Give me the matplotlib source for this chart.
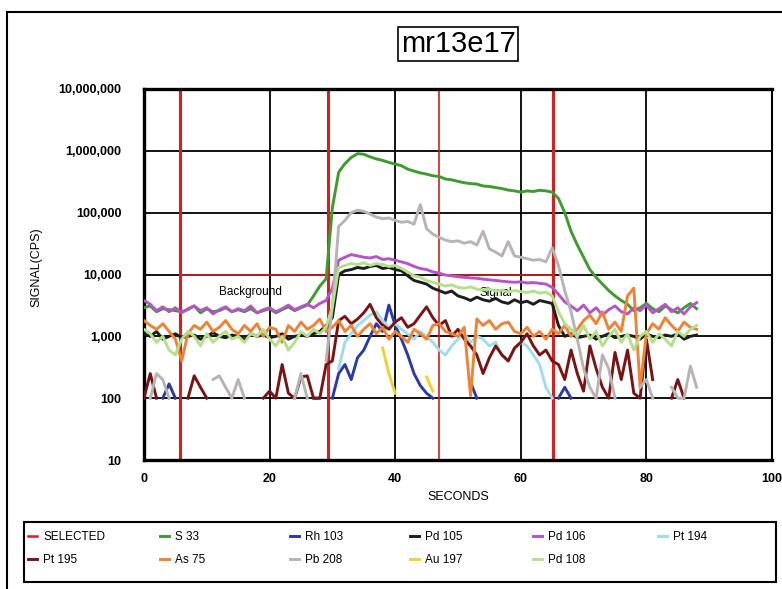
import numpy as np
import matplotlib
matplotlib.use("Agg")
import matplotlib.pyplot as plt
from matplotlib.ticker import FuncFormatter, NullLocator, FixedLocator
from matplotlib.patches import Rectangle

plt.rcParams['font.family'] = ['Liberation Sans', 'DejaVu Sans']

nan = float('nan')

# one sample per second, 0 .. 88 s
seconds = np.arange(89)

# selected integration windows (background 6-29 s, signal 47-65 s)
sel_x = [5.7, 29.3, 47.0, 65.2]
sel_level = 10000

s33 = [2900, 3100, 2500, 2800, 2700, 2600, 2500, 2700, 3100, 2400,
       2800, 2500, 2600, 2900, 2500, 2700, 2500, 2800, 2400, 2600,
       2800, 2400, 2700, 3000, 2600, 2900, 3200, 4500, 6500, 8500,
       120000, 450000, 620000, 780000, 900000, 880000, 800000, 740000, 700000, 650000,
       610000, 575000, 505000, 470000, 440000, 420000, 395000, 385000, 350000, 340000,
       320000, 305000, 295000, 290000, 270000, 265000, 255000, 245000, 232000, 225000,
       215000, 225000, 220000, 230000, 225000, 215000, 170000, 100000, 50000, 30000,
       19000, 12000, 9000, 7000, 5500, 4500, 3800, 3300, 2600, 2900,
       3400, 2800, 2500, 3100, 2700, 2400, 2900, 3400, 2800]

rh103 = [nan, nan, nan, 100, 170, 100, nan, nan, nan, nan,
         nan, nan, nan, nan, nan, nan, nan, nan, nan, nan,
         nan, nan, nan, nan, nan, nan, nan, 100, 100, nan,
         100, 250, 350, 200, 450, 600, 1000, 1600, 1200, 3200,
         1500, 900, 500, 250, 160, 120, 100, nan, nan, nan,
         nan, nan, 180, 100, nan, nan, nan, nan, nan, nan,
         nan, nan, nan, nan, nan, nan, 100, 150, 100, nan,
         nan, nan, nan, nan, nan, nan, nan, nan, nan, nan,
         nan, nan, nan, nan, nan, nan, nan, nan, nan]

pd105 = [1100, 1000, 1200, 900, 1000, 1100, 950, 1000, 1050, 900,
         1000, 1150, 1000, 950, 1050, 1000, 900, 1100, 1000, 1050,
         950, 1000, 1100, 900, 1000, 1050, 1000, 1100, 1200, 1500,
         2000, 10000, 11500, 12000, 13000, 12500, 13500, 14000, 12500, 13000,
         12000, 11500, 9500, 8000, 7500, 7000, 6000, 5500, 5000, 5400,
         4500, 4200, 3800, 4300, 3900, 3700, 4100, 3600, 3400, 3900,
         3500, 3700, 3300, 3800, 3600, 3400, 1500, 1000, 1100, 950,
         1000, 1050, 900, 1000, 1100, 950, 1000, 1050, 1000, 900,
         1100, 1000, 950, 1050, 1000, 1100, 900, 1000, 1050]

pd106 = [3800, 3300, 2600, 3000, 2500, 2900, 2400, 2800, 3100, 2600,
         2900, 2300, 2700, 3000, 2500, 2800, 2600, 3100, 2400, 2700,
         2900, 2500, 2800, 3200, 2700, 3000, 3300, 2900, 3400, 3800,
         6000, 17000, 19000, 21000, 20000, 19000, 18500, 19500, 17500, 18000,
         17000, 16000, 15000, 13500, 12500, 12000, 11000, 10500, 9800, 9500,
         9200, 9000, 8800, 8700, 8400, 8200, 8000, 7800, 7600, 7500,
         7600, 7300, 7400, 7200, 7000, 6200, 4800, 3600, 3100, 2600,
         3200, 2400, 2900, 2200, 2700, 3100, 2500, 2300, 2900, 2600,
         3200, 2400, 2800, 3300, 2500, 2900, 2300, 3000, 3500]

pt194 = [nan] * 30 + [
         nan, 300, 800, 1100, 1500, 1800, 2200, 2500, 1800, 1400,
         1600, 1300, 1100, 900, 1200, 1000, 800, 600, 500, 700,
         900, 1100, 800, 1000, 900, 700, 800, 500, 400, 600,
         800, 700, 500, 350, 150, 100, nan, nan, nan, nan] + [nan] * 19

pt195 = [100, 250, 100, nan, nan, nan, nan, 100, 230, 150,
         100, nan, nan, nan, nan, nan, nan, nan, nan, 100,
         130, 100, 350, 120, 100, 220, 230, 100, 100, 350,
         400, 1800, 2100, 1600, 1900, 2400, 3300, 2000, 1500, 1300,
         1700, 2000, 1400, 1600, 2200, 3000, 2000, 1500, 1800, 1000,
         1300, 900, 700, 500, 250, 450, 700, 500, 400, 650,
         800, 1100, 700, 500, 600, 400, 350, 200, 600, 250,
         130, 700, 300, 150, 100, 550, 200, 600, 120, 100,
         900, 200, nan, nan, 100, 200, 100, nan, nan]

as75 = [1800, 1500, 1300, 1600, 1200, 900, 400, 1100, 1500, 1300,
        1700, 1200, 1400, 1800, 1300, 1100, 1500, 1200, 1600, 1000,
        1400, 1300, 800, 1500, 1200, 1700, 1300, 1500, 1900, 1200,
        1400, 1800, 1200, 1500, 1000, 1300, 1600, 1100, 1400, 900,
        1200, 1000, 800, 1300, 1100, 900, 1500, 1600, 1200, 1100,
        1000, 1400, 110, 1900, 1500, 1800, 1300, 1600, 1700, 1200,
        1100, 1400, 1000, 1200, 900, 1300, 1100, 1500, 1000, 1300,
        1800, 2200, 1600, 2500, 1300, 1700, 1200, 4500, 6000, 150,
        1100, 1600, 1300, 2000, 1500, 1200, 1700, 1400, 1300]

pb208 = [nan, 100, 250, 200, 100, nan, nan, nan, nan, nan,
         nan, 200, 230, 150, 100, 200, 100, nan, nan, nan,
         nan, nan, nan, nan, 100, 250, 100, nan, nan, 400,
         3000, 60000, 75000, 100000, 110000, 105000, 95000, 85000, 80000, 82000,
         75000, 70000, 72000, 65000, 135000, 55000, 45000, 40000, 36000, 34000,
         35000, 32000, 34000, 30000, 50000, 26000, 23000, 20000, 34000, 20000,
         19000, 18000, 17000, 17500, 16000, 27000, 14000, 5500, 2500, 900,
         300, 150, 100, 500, 300, 100, nan, nan, nan, 150,
         200, 100, nan, nan, 150, 100, 100, 330, 150]

au197 = [nan] * 38 + [650, 250, 120, nan, nan, nan, nan, 220, 130] + [nan] * 42

pd108 = [1300, 1100, 800, 1000, 600, 500, 900, 1200, 1000, 700,
         1100, 800, 1000, 1200, 900, 1000, 800, 1100, 1000, 1300,
         900, 700, 1000, 600, 800, 1200, 1000, 1300, 1100, 1400,
         3000, 13000, 14000, 15000, 14500, 15500, 14000, 15000, 14500, 13500,
         14000, 12500, 11000, 9500, 9000, 8000, 7500, 7000, 6500, 6800,
         6200, 6000, 6300, 5800, 5600, 5800, 5400, 5600, 5200, 5500,
         5300, 5100, 5400, 5000, 5200, 4500, 2500, 1600, 1300, 1000,
         1500, 900, 1200, 700, 1000, 1300, 800, 1100, 600, 1000,
         1200, 800, 1100, 900, 700, 1200, 1000, 1300, 1500]

series = [
    ("S 33", s33, "#3f9a2f"),
    ("Rh 103", rh103, "#2a3aa8"),
    ("Pd 105", pd105, "#1e1e1e"),
    ("Pd 106", pd106, "#b455c8"),
    ("Pt 194", pt194, "#9fdcec"),
    ("Pt 195", pt195, "#7a1414"),
    ("As 75", as75, "#f08236"),
    ("Pb 208", pb208, "#b8b4b4"),
    ("Au 197", au197, "#f2d22a"),
    ("Pd 108", pd108, "#b4e08c"),
]

fig = plt.figure(figsize=(7.82, 5.89), dpi=100)
ax = fig.add_axes([0.1841, 0.2190, 0.8031, 0.6299])

# selected windows
red = "#d42020"
ax.vlines(sel_x, 10, 1e7, colors=red, linewidths=[2.2, 2.2, 1.2, 2.2], zorder=2)
ax.hlines(sel_level, sel_x[0], sel_x[1], colors=red, linewidth=1.2, zorder=2)
ax.hlines(sel_level, sel_x[2], sel_x[3], colors=red, linewidth=1.2, zorder=2)
handles = {"SELECTED": plt.Line2D([], [], color=red, lw=1.8)}

for i, (name, vals, col) in enumerate(series):
    ln, = ax.plot(seconds, vals, color=col, lw=2.1, zorder=3 + i * 0.1)
    handles[name] = ln

ax.set_yscale("log")
ax.set_xlim(0, 100)
ax.set_ylim(10, 1e7)
ax.xaxis.set_major_locator(FixedLocator([0, 20, 40, 60, 80, 100]))
ax.yaxis.set_major_locator(FixedLocator([10, 100, 1e3, 1e4, 1e5, 1e6, 1e7]))
ax.yaxis.set_minor_locator(NullLocator())
ax.yaxis.set_major_formatter(FuncFormatter(lambda v, p: f"{int(round(v)):,}"))
ax.grid(True, color="black", lw=1.3)
ax.set_axisbelow(True)
ax.tick_params(length=0, labelsize=9)
ax.tick_params(axis="y", pad=16)
ax.tick_params(axis="x", pad=9)
for lab in ax.get_xticklabels() + ax.get_yticklabels():
    lab.set_fontweight("bold")
for side in ["left", "top", "bottom"]:
    ax.spines[side].set_linewidth(2.4)
ax.spines["right"].set_linewidth(1.5)

ax.text(17, 5200, "Background", ha="center", va="center", fontsize=8.5, zorder=10)
ax.text(56, 5000, "Signal", ha="center", va="center", fontsize=8.5, zorder=2.5)

fig.text(0.5857, 0.156, "SECONDS", ha="center", va="center", fontsize=9)
fig.text(0.046, 0.547, "SIGNAL(CPS)", ha="center", va="center", fontsize=9, rotation=90)
fig.text(0.5857, 0.9253, "mr13e17", ha="center", va="center", fontsize=21,
         bbox=dict(boxstyle="square,pad=0.1", fc="white", ec="black", lw=1.2))

# legend: two rows, six columns, drawn column by column
cols = [("SELECTED", "Pt 195"), ("S 33", "As 75"), ("Rh 103", "Pb 208"),
        ("Pd 105", "Au 197"), ("Pd 106", "Pd 108"), ("Pt 194",)]
col_x = [28, 160, 290, 410, 533, 658]
for cx, names in zip(col_x, cols):
    fig.legend([handles[n] for n in names], list(names), loc="upper left",
               bbox_to_anchor=(cx / 782, 1 - 531 / 589), frameon=False,
               fontsize=8.5, handlelength=0.8, handletextpad=0.5,
               labelspacing=0.95, borderpad=0, borderaxespad=0)
fig.patches.append(Rectangle((24 / 782, 1 - 582 / 589), 752 / 782, 60 / 589,
                             transform=fig.transFigure, fill=False, ec="black", lw=1.5))
# outer chart border
fig.patches.append(Rectangle((7 / 782, -0.1), 1.2, 1.1 - 12 / 589,
                             transform=fig.transFigure, fill=False, ec="black", lw=1.5))

fig.savefig("out.png", dpi=100)
